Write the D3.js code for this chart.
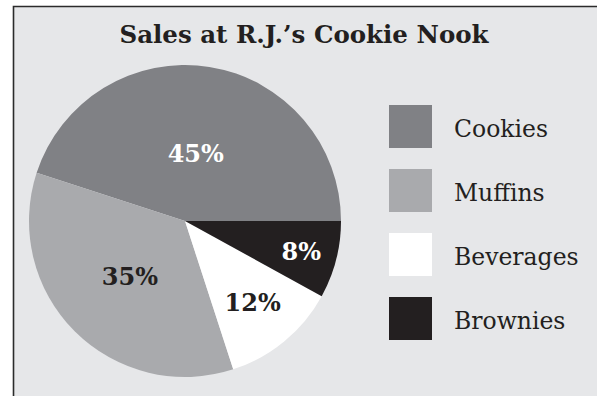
<!DOCTYPE html>
<html>
<head>
<meta charset="utf-8">
<script src="https://cdn.jsdelivr.net/npm/d3@7"></script>
<style>
    body { margin: 0; background: #fff; }
    svg text { font-family: "DejaVu Serif", "Liberation Serif", serif; }
    .title { font-size: 24.5px; font-weight: bold; fill: #231f20; }
    .slice-label { font-size: 24px; font-weight: bold; }
    .legend-label { font-size: 23.5px; fill: #231f20; }
</style>
</head>
<body>
<svg id="chart" width="597" height="396"></svg>
<script>
// Data (percent of sales)
const categories = ['Cookies', 'Muffins', 'Beverages', 'Brownies'];
const shares = [45, 35, 12, 8];
const sliceColours = ['#808185', '#a9aaad', '#ffffff', '#231f20'];
const labelColours = ['#ffffff', '#231f20', '#231f20', '#ffffff'];

const width = 597, height = 396;
const svg = d3.select('#chart');

// Panel background with the dark edge along top and left
svg.append('rect')
    .attr('x', 13).attr('y', 6)
    .attr('width', width - 13).attr('height', height - 6)
    .attr('fill', '#e6e7e9');
svg.append('path')
    .attr('d', `M13.5,${height} V6.5 H${width}`)
    .attr('fill', 'none')
    .attr('stroke', '#2b2b2b')
    .attr('stroke-width', 1.6);

svg.append('text')
    .attr('class', 'title')
    .attr('x', 304)
    .attr('y', 43)
    .attr('text-anchor', 'middle')
    .text('Sales at R.J.\u2019s Cookie Nook');

const data = categories.map((c, i) => ({ name: c, value: shares[i], i: i }));
const colour = d3.scaleOrdinal().domain(categories).range(sliceColours);

// Slices run clockwise from 3 o'clock: Brownies, Beverages, Muffins, Cookies
const drawOrder = ['Brownies', 'Beverages', 'Muffins', 'Cookies'];
const pie = d3.pie()
    .value(d => d.value)
    .sort((a, b) => drawOrder.indexOf(a.name) - drawOrder.indexOf(b.name))
    .startAngle(Math.PI / 2)
    .endAngle(Math.PI / 2 + 2 * Math.PI);

const radius = 156;
const arc = d3.arc().innerRadius(0).outerRadius(radius);

const g = svg.append('g').attr('transform', 'translate(185,221)');
const arcs = pie(data);

g.selectAll('path')
    .data(arcs)
    .join('path')
    .attr('d', arc)
    .attr('fill', d => colour(d.data.name));

// Label positions (fraction of radius) tuned per slice
const labelRadius = { Cookies: 0.44, Muffins: 0.5, Beverages: 0.68, Brownies: 0.77 };
g.selectAll('text.slice-label')
    .data(arcs)
    .join('text')
    .attr('class', 'slice-label')
    .attr('text-anchor', 'middle')
    .attr('dy', '0.36em')
    .attr('transform', d => {
        const r = radius * labelRadius[d.data.name];
        const c = d3.arc().innerRadius(r).outerRadius(r).centroid(d);
        return `translate(${c})`;
    })
    .attr('fill', d => labelColours[d.data.i])
    .text(d => d.data.value + '%');

// Legend
const legend = svg.append('g').attr('transform', 'translate(389,105)');
const item = legend.selectAll('g')
    .data(categories)
    .join('g')
    .attr('transform', (d, i) => `translate(0,${i * 64})`);
item.append('rect')
    .attr('width', 43).attr('height', 43)
    .attr('fill', d => colour(d));
item.append('text')
    .attr('class', 'legend-label')
    .attr('x', 65)
    .attr('y', 32)
    .text(d => d);
</script>
</body>
</html>
